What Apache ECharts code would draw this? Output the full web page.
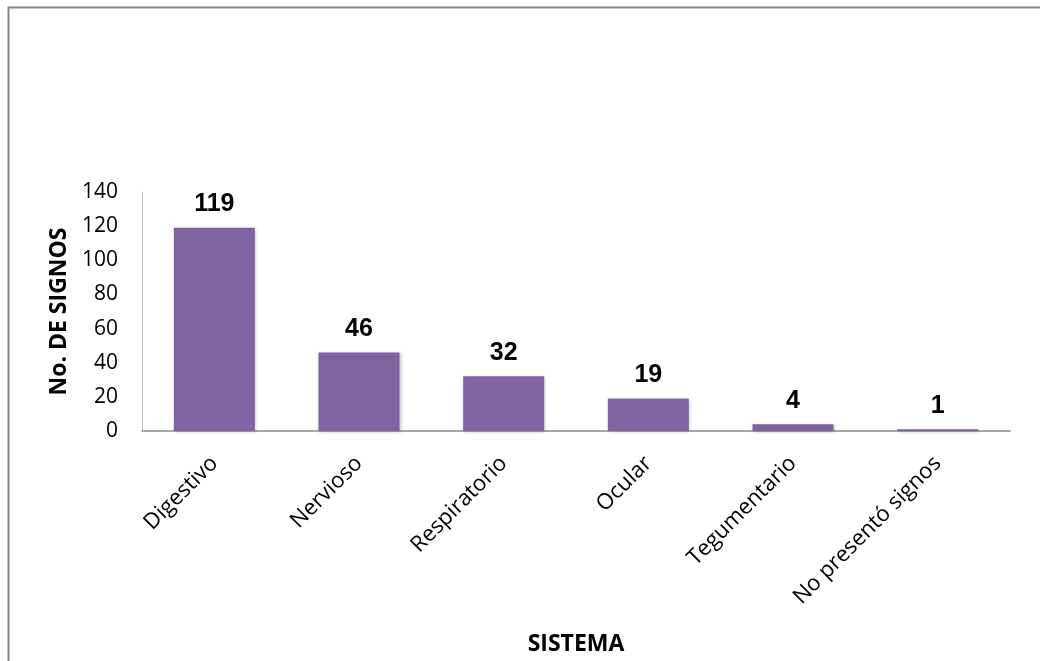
<!DOCTYPE html>
<html><head><meta charset="utf-8">
<script src="https://cdn.jsdelivr.net/npm/echarts@6/dist/echarts.min.js"></script>
<style>html,body{margin:0;padding:0;background:#fff}#c{width:1040px;height:661px}</style>
</head><body><div id="c"></div>
<script>
const categories = ["Digestivo","Nervioso","Respiratorio","Ocular","Tegumentario","No presentó signos"];
const values = [119,46,32,19,4,1];
const yTicks = [0,20,40,60,80,100,120,140];
const xTitle = "SISTEMA";
const yTitle = "No. DE SIGNOS";

const chart = echarts.init(document.getElementById('c'));
chart.setOption({
  animation:false,
  backgroundColor:'#fff',
  graphic:[{type:'rect',shape:{x:8.5,y:7.5,width:1100,height:700},style:{fill:'none',stroke:'#868686',lineWidth:2},silent:true}],
  grid:{left:142,right:30,top:192,bottom:230,containLabel:false,outerBoundsMode:'none'},
  xAxis:{type:'category',data:categories,
    axisLine:{lineStyle:{color:'#8c8c8c',width:1.5}},
    axisTick:{show:false},
    axisLabel:{rotate:45,margin:29,fontFamily:'Open Sans',fontSize:22,color:'#000',interval:0},
    name:xTitle,nameLocation:'middle',nameGap:202,
    nameTextStyle:{fontFamily:'Open Sans',fontWeight:'bold',fontSize:23,color:'#000'}},
  yAxis:{type:'value',min:0,max:140,interval:20,
    axisLine:{show:true,lineStyle:{color:'#bfbfbf'}},
    axisTick:{show:false},splitLine:{show:false},
    axisLabel:{fontFamily:'Open Sans',fontSize:21,color:'#000',margin:24,
      formatter:v=>yTicks.includes(v)?String(v):''},
    name:yTitle,nameLocation:'middle',nameGap:64,nameRotate:90,
    nameTextStyle:{fontFamily:'Open Sans',fontWeight:'bold',fontSize:23,color:'#000'}},
  series:[{type:'bar',data:values,barWidth:'56%',
    itemStyle:{color:'#8064A2',shadowColor:'rgba(0,0,0,0.25)',shadowBlur:3,shadowOffsetX:1,shadowOffsetY:1},
    label:{show:true,position:'top',distance:11,fontFamily:'Liberation Sans',fontWeight:'bold',fontSize:25,color:'#000'}}]
});
</script></body></html>
